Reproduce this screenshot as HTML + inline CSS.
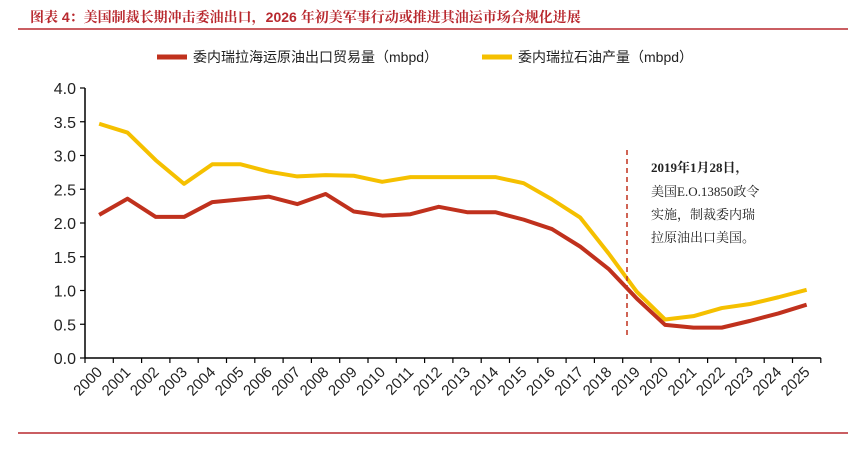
<!DOCTYPE html>
<html><head><meta charset="utf-8"><style>
body{margin:0;background:#fff;width:866px;height:449px;overflow:hidden;font-family:"Liberation Sans","Noto Sans CJK SC",sans-serif}
</style></head><body>
<svg width="866" height="449" xmlns="http://www.w3.org/2000/svg">
<text x="30" y="22" font-size="14" font-weight="bold" fill="#b8282e" font-family="Liberation Sans,Noto Serif CJK SC,serif">图表 4：美国制裁长期冲击委油出口，2026 年初美军事行动或推进其油运市场合规化进展</text>
<line x1="18" y1="29" x2="848" y2="29" stroke="#b8282e" stroke-width="1.5"/>
<line x1="18" y1="433" x2="848" y2="433" stroke="#b8282e" stroke-width="1.5"/>
<g>
<line x1="157" y1="57" x2="187" y2="57" stroke="#c0311d" stroke-width="5"/>
<text x="193" y="62" font-size="14" fill="#222">委内瑞拉海运原油出口贸易量（mbpd）</text>
<line x1="482" y1="57" x2="512" y2="57" stroke="#f5c000" stroke-width="5"/>
<text x="518" y="62" font-size="14" fill="#222">委内瑞拉石油产量（mbpd）</text>
</g>
<g id="axes"></g>
<g id="marks"></g>
<line x1="627" y1="150" x2="627" y2="338" stroke="#c0311d" stroke-width="1.5" stroke-dasharray="5,4"/>
<g font-size="13" fill="#222" font-family="Liberation Serif,Noto Serif CJK SC,serif">
<text x="651" y="172" font-weight="bold">2019年1月28日，</text>
<text x="651" y="196">美国E.O.13850政令</text>
<text x="651" y="219">实施，制裁委内瑞</text>
<text x="651" y="242">拉原油出口美国。</text>
</g>
</svg>
<script>
const categories=["2000","2001","2002","2003","2004","2005","2006","2007","2008","2009","2010","2011","2012","2013","2014","2015","2016","2017","2018","2019","2020","2021","2022","2023","2024","2025"];
const exportsSeries=[2.12,2.36,2.09,2.09,2.31,2.35,2.39,2.28,2.43,2.17,2.11,2.13,2.24,2.16,2.16,2.05,1.91,1.65,1.32,0.88,0.49,0.45,0.45,0.55,0.66,0.79];
const productionSeries=[3.47,3.34,2.93,2.58,2.87,2.87,2.76,2.69,2.71,2.70,2.61,2.68,2.68,2.68,2.68,2.59,2.35,2.08,1.55,0.98,0.57,0.62,0.74,0.80,0.90,1.01];
const yTicks=[0,0.5,1.0,1.5,2.0,2.5,3.0,3.5,4.0];
const NS="http://www.w3.org/2000/svg";
const X0=85,STEP=28.3,Y0=358,YTOP=88;
const xC=i=>X0+STEP*(i+0.5);
const y=v=>Y0-(v/4)*(Y0-YTOP);
const ax=document.getElementById('axes'),mk=document.getElementById('marks');
function el(t,a,p){const e=document.createElementNS(NS,t);for(const k in a)e.setAttribute(k,a[k]);p.appendChild(e);return e;}
const yAxis=el('line',{x1:X0,y1:YTOP,x2:X0,y2:Y0,stroke:'#000','stroke-width':1.5},ax);


const xAxis=el('line',{x1:X0,y1:Y0,x2:X0+STEP*categories.length,y2:Y0,stroke:'#000','stroke-width':1.5},ax);


yTicks.forEach(v=>{
  el('line',{x1:X0-5,y1:y(v),x2:X0,y2:y(v),stroke:'#000','stroke-width':1.2},ax);
  const t=el('text',{x:X0-9,y:y(v)+6,'text-anchor':'end','font-size':16,fill:'#222'},ax);
  t.textContent=v.toFixed(1);
  
  
});
for(let i=0;i<=categories.length;i++)el('line',{x1:X0+STEP*i,y1:Y0,x2:X0+STEP*i,y2:Y0+5,stroke:'#000','stroke-width':1.2},ax);
categories.forEach((c,i)=>{
  const cx=xC(i)+4,cy=Y0+15;
  const t=el('text',{x:cx,y:cy,'text-anchor':'end','font-size':15,fill:'#222',transform:`rotate(-45 ${cx} ${cy})`},ax);
  t.textContent=c;
  
  
});
function line(vals,color,name){
  const p=el('polyline',{points:vals.map((v,i)=>xC(i)+','+y(v)).join(' '),fill:'none',stroke:color,'stroke-width':4,'stroke-linejoin':'round'},mk);
  
  
}
line(productionSeries,'#f5c000','production-line');
line(exportsSeries,'#c0311d','exports-line');
</script>
</body></html>
